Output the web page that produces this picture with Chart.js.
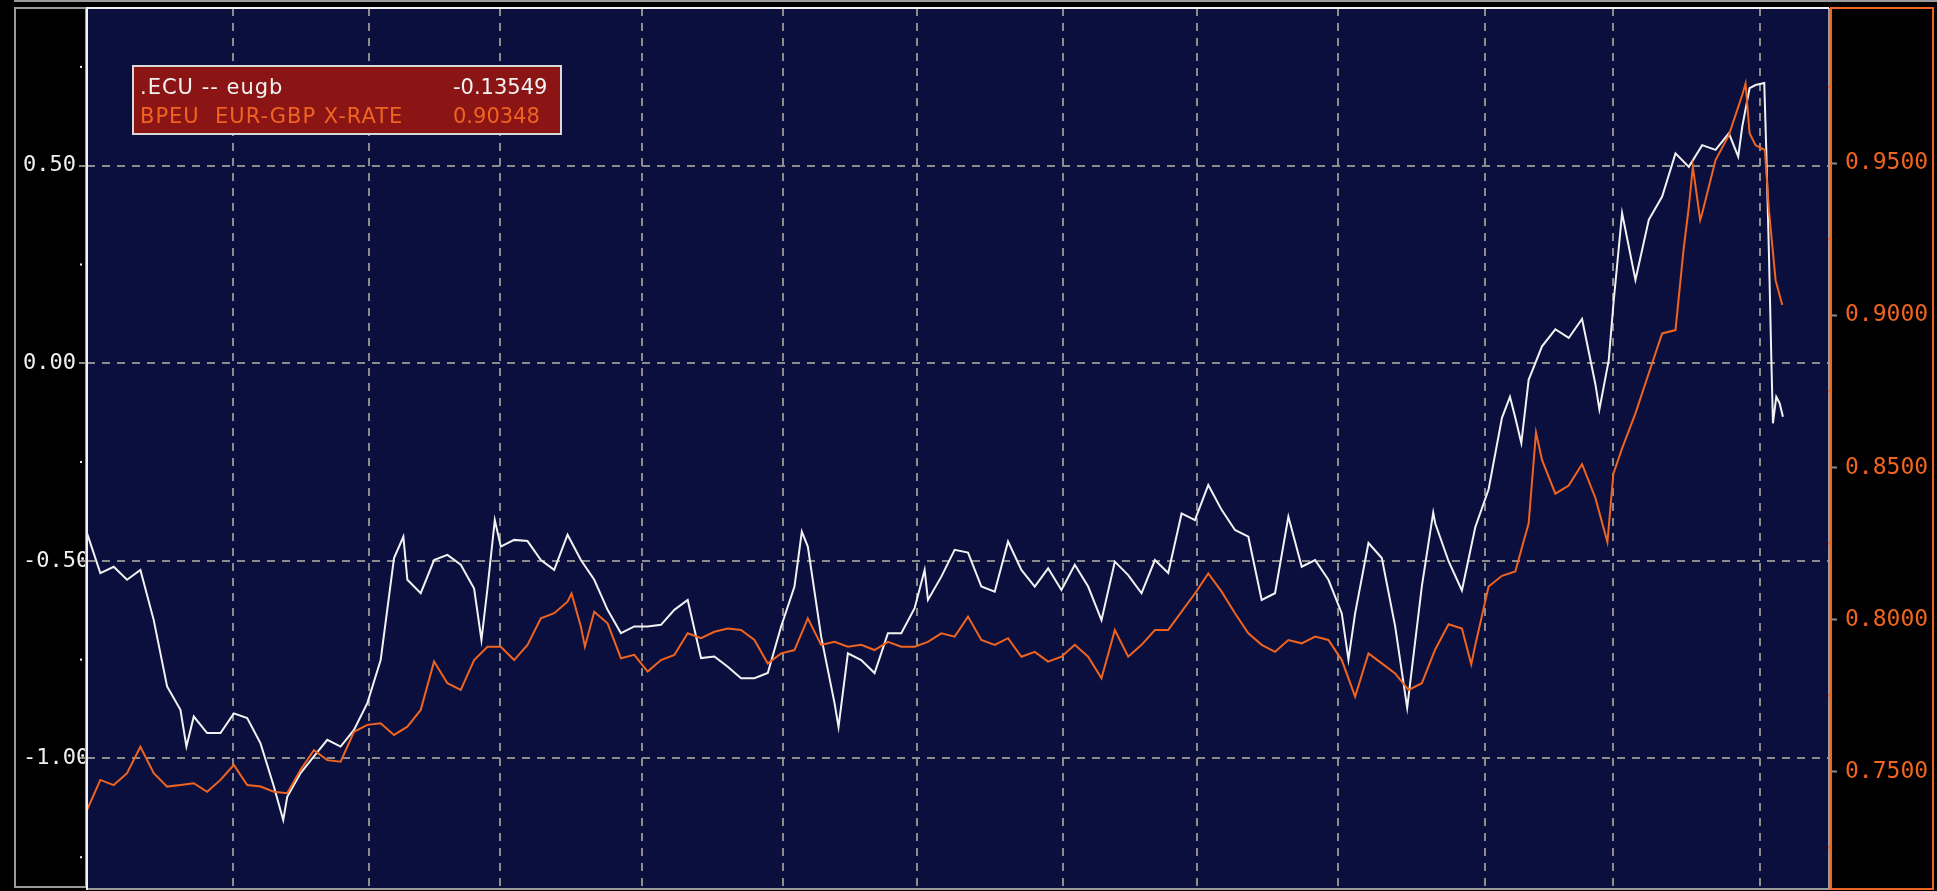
<!DOCTYPE html>
<html>
<head>
<meta charset="utf-8">
<script src="https://cdn.jsdelivr.net/npm/chart.js@4/dist/chart.umd.min.js"></script>
<style>
  html, body { margin: 0; padding: 0; background: #000; }
  #wrap { width: 1937px; height: 891px; }
</style>
</head>
<body>
<div id="wrap"><canvas id="fxChart"></canvas></div>
<script>
// trading-day index of each reading, and the values
const ecuDays = [
  0, 2, 4, 6, 8, 10, 12, 14, 14.9, 16,
  18, 20, 22, 24, 26, 28, 29.4, 30, 32, 34,
  36, 38, 40, 42, 44, 46, 47.4, 48, 50, 52,
  54, 56, 58, 59.1, 60, 61.1, 62, 64, 66, 68,
  70, 72, 74, 76, 78, 80, 82, 84, 86, 88,
  90, 92, 94, 96, 98, 100, 102, 104, 106, 107.1,
  108, 110, 112, 112.6, 114, 116, 118, 120, 122, 124,
  125.5, 126, 128, 130, 132, 134, 136, 138, 140, 142,
  144, 146, 148, 150, 152, 154, 156, 158, 160, 162,
  164, 166, 168, 170, 172, 174, 176, 178, 180, 182,
  184, 186, 188, 189, 190, 192, 194, 196, 197.8, 200,
  201.7, 202, 204, 206, 208, 210, 212, 213.2, 214, 214.9,
  216, 218, 220, 222, 224, 226, 226.6, 228, 228.7, 230,
  232, 234, 236, 238, 240, 242, 244, 246, 247.4, 248,
  249.1, 250, 251.3, 251.6, 252, 252.4, 252.6, 253.1, 253.6, 254.1
];
const ecuVals = [
  -0.430, -0.531, -0.515, -0.548, -0.523, -0.650, -0.818, -0.877, -0.970, -0.894,
  -0.936, -0.936, -0.886, -0.898, -0.962, -1.071, -1.156, -1.097, -1.037, -0.995,
  -0.953, -0.970, -0.928, -0.860, -0.751, -0.493, -0.439, -0.548, -0.582, -0.498,
  -0.485, -0.510, -0.570, -0.700, -0.570, -0.397, -0.464, -0.447, -0.450, -0.498,
  -0.523, -0.434, -0.498, -0.548, -0.624, -0.683, -0.666, -0.666, -0.662, -0.624,
  -0.599, -0.746, -0.742, -0.768, -0.797, -0.797, -0.784, -0.666, -0.565, -0.426,
  -0.464, -0.692, -0.860, -0.920, -0.734, -0.751, -0.784, -0.683, -0.683, -0.620,
  -0.523, -0.599, -0.540, -0.472, -0.479, -0.565, -0.578, -0.451, -0.523, -0.565,
  -0.519, -0.574, -0.510, -0.565, -0.650, -0.502, -0.536, -0.582, -0.498, -0.531,
  -0.380, -0.397, -0.308, -0.371, -0.422, -0.439, -0.599, -0.582, -0.388, -0.515,
  -0.498, -0.548, -0.633, -0.750, -0.633, -0.455, -0.493, -0.666, -0.872, -0.564,
  -0.378, -0.405, -0.501, -0.575, -0.415, -0.319, -0.138, -0.085, -0.138, -0.202,
  -0.042, 0.043, 0.086, 0.064, 0.112, -0.053, -0.117, 0.008, 0.150, 0.380,
  0.211, 0.363, 0.422, 0.531, 0.497, 0.552, 0.540, 0.582, 0.523, 0.599,
  0.696, 0.704, 0.709, 0.540, 0.278, -0.017, -0.152, -0.085, -0.101, -0.13549
];

const gbpDays = [
  0, 2, 4, 6, 8, 10, 12, 14, 16, 18,
  20, 22, 24, 26, 28, 30, 32, 34, 36, 38,
  40, 42, 44, 46, 48, 50, 52, 54, 56, 58,
  60, 62, 64, 66, 68, 70, 72, 72.6, 74, 74.6,
  76, 78, 80, 82, 84, 86, 88, 90, 92, 94,
  96, 98, 100, 102, 104, 106, 108, 110, 112, 114,
  116, 118, 120, 122, 124, 126, 128, 130, 132, 134,
  136, 138, 140, 142, 144, 146, 148, 150, 152, 154,
  156, 158, 160, 162, 164, 166, 168, 170, 172, 174,
  176, 178, 180, 182, 184, 186, 188, 190, 192, 194,
  196, 198, 200, 202, 204, 206, 207.4, 208, 210, 212,
  214, 216, 217.1, 218, 220, 222, 224, 226, 227.8, 228.7,
  230, 232, 234, 236, 238, 239.2, 240, 240.6, 241.7, 242,
  244, 246, 248, 248.5, 249.1, 250, 251.4, 252, 253, 254
];
const gbpVals = [
  0.7374, 0.7473, 0.7456, 0.7495, 0.7582, 0.7495, 0.7451, 0.7456, 0.7462, 0.7434,
  0.7473, 0.7522, 0.7456, 0.7451, 0.7434, 0.7429, 0.7506, 0.7571, 0.7538, 0.7533,
  0.7631, 0.7654, 0.7659, 0.7621, 0.7648, 0.7703, 0.7862, 0.7791, 0.7769, 0.7867,
  0.7911, 0.7911, 0.7867, 0.7917, 0.8004, 0.8021, 0.8059, 0.8086, 0.7977, 0.7911,
  0.8026, 0.7988, 0.7873, 0.7884, 0.7829, 0.7867, 0.7884, 0.7955, 0.7939, 0.7960,
  0.7971, 0.7966, 0.7933, 0.7856, 0.7889, 0.7900, 0.8004, 0.7917, 0.7927, 0.7911,
  0.7917, 0.7900, 0.7927, 0.7911, 0.7911, 0.7927, 0.7955, 0.7944, 0.8010, 0.7933,
  0.7917, 0.7939, 0.7878, 0.7894, 0.7862, 0.7878, 0.7917, 0.7878, 0.7807, 0.7966,
  0.7878, 0.7917, 0.7966, 0.7966, 0.8026, 0.8086, 0.8152, 0.8092, 0.8021, 0.7955,
  0.7917, 0.7894, 0.7933, 0.7922, 0.7944, 0.7933, 0.7867, 0.7747, 0.7889, 0.7856,
  0.7823, 0.7769, 0.7791, 0.7902, 0.7985, 0.7971, 0.7853, 0.7916, 0.8109, 0.8144,
  0.8158, 0.8317, 0.8615, 0.8525, 0.8414, 0.8441, 0.8511, 0.8400, 0.8255, 0.8480,
  0.8563, 0.8678, 0.8810, 0.8941, 0.8952, 0.9215, 0.9357, 0.9489, 0.9314, 0.9336,
  0.9511, 0.9593, 0.9725, 0.9763, 0.9599, 0.9560, 0.9544, 0.9346, 0.9116, 0.90348
];

// month boundaries (vertical grid) and axis ticks
const monthLines = [21.9, 42.3, 61.9, 83.1, 104.3, 124.3, 146.3, 166.3, 187.5, 209.5, 228.6, 250.6];
const leftTicks = [0.5, 0, -0.5, -1];
const leftMinor = [0.75, 0.25, -0.25, -0.75, -1.25];
const rightTicks = [0.95, 0.9, 0.85, 0.8, 0.75];
const rightMinor = [0.975, 0.925, 0.875, 0.825, 0.775, 0.725];

const ecuLabel = '.ECU -- eugb';
const gbpLabel = 'BPEU  EUR-GBP X-RATE';

const NAVY = '#0b0f3d';
const GRID = '#8c8c8c';
const WHITE = '#f2f2f2';
const ORANGE = '#ee6420';

const framePlugin = {
    id: 'frame',
    beforeDraw(chart) {
        const { ctx, chartArea: a, width, height } = chart;
        ctx.save();
        ctx.fillStyle = '#000';
        ctx.fillRect(0, 0, width, height);
        ctx.fillStyle = NAVY;
        ctx.fillRect(a.left, a.top, a.right - a.left, a.bottom - a.top);
        ctx.restore();
    },
    afterDraw(chart) {
        const { ctx, chartArea: a, width } = chart;
        const yL = chart.scales.yL, yR = chart.scales.yR;
        ctx.save();

        // outer frames
        ctx.lineWidth = 2;
        ctx.strokeStyle = '#9a9a9a';
        ctx.beginPath(); ctx.moveTo(14, 1); ctx.lineTo(width, 1); ctx.stroke();
        ctx.strokeRect(15, a.top, a.left - 16, a.bottom - a.top - 3);
        ctx.beginPath(); ctx.moveTo(a.right, a.top); ctx.lineTo(a.right, a.bottom); ctx.stroke();
        ctx.beginPath(); ctx.moveTo(a.left, a.bottom - 1); ctx.lineTo(a.right, a.bottom - 1); ctx.stroke();
        ctx.strokeStyle = WHITE;
        ctx.beginPath();
        ctx.moveTo(a.left, a.bottom); ctx.lineTo(a.left, a.top); ctx.lineTo(a.right, a.top);
        ctx.stroke();
        ctx.strokeStyle = ORANGE;
        ctx.strokeRect(a.right + 2, a.top, width - a.right - 6, a.bottom - a.top - 1);

        // minor tick dots
        ctx.fillStyle = WHITE;
        leftMinor.forEach(v => ctx.fillRect(a.left - 7, yL.getPixelForValue(v) - 1, 2, 2));
        ctx.fillStyle = ORANGE;
        rightMinor.forEach(v => ctx.fillRect(a.right - 1, yR.getPixelForValue(v) - 1, 3, 2));

        // legend box
        const bx = a.left + 46, by = a.top + 58, bw = 428, bh = 68;
        ctx.fillStyle = '#8b1515';
        ctx.fillRect(bx, by, bw, bh);
        ctx.strokeStyle = '#d8d8d8';
        ctx.lineWidth = 2;
        ctx.strokeRect(bx, by, bw, bh);
        ctx.font = '21px "DejaVu Sans"';
        ctx.textBaseline = 'alphabetic';
        ctx.textAlign = 'left';
        ctx.letterSpacing = '1px';
        ctx.fillStyle = WHITE;
        ctx.fillText(ecuLabel, bx + 7, by + 28);
        ctx.fillStyle = ORANGE;
        ctx.fillText(gbpLabel, bx + 7, by + 57);
        ctx.letterSpacing = '0px';
        ctx.fillStyle = WHITE;
        ctx.fillText(ecuVals[ecuVals.length - 1].toFixed(5), bx + 320, by + 28);
        ctx.fillStyle = ORANGE;
        ctx.fillText(gbpVals[gbpVals.length - 1].toFixed(5), bx + 320, by + 57);
        ctx.restore();
    }
};

const ctx = document.getElementById('fxChart').getContext('2d');
const fxChart = new Chart(ctx, {
    type: 'line',
    data: {
        datasets: [{
            label: ecuLabel,
            data: ecuDays.map((d, i) => ({ x: d, y: ecuVals[i] })),
            yAxisID: 'yL',
            borderColor: WHITE,
            borderWidth: 2,
            pointRadius: 0,
            tension: 0,
            order: 2
        }, {
            label: gbpLabel,
            data: gbpDays.map((d, i) => ({ x: d, y: gbpVals[i] })),
            yAxisID: 'yR',
            borderColor: ORANGE,
            borderWidth: 2,
            pointRadius: 0,
            tension: 0,
            order: 1
        }]
    },
    options: {
        responsive: true,
        maintainAspectRatio: false,
        animation: false,
        events: [],
        layout: {
            padding: { left: 23, top: 8, right: 0, bottom: 1 }
        },
        plugins: {
            legend: { display: false },
            tooltip: { enabled: false }
        },
        scales: {
            x: {
                type: 'linear',
                min: 0,
                max: 261,
                afterBuildTicks: s => { s.ticks = monthLines.map(v => ({ value: v })); },
                afterFit: s => { s.height = 0; },
                ticks: { display: false },
                grid: { color: GRID, lineWidth: 2, drawTicks: false },
                border: { display: false, dash: [8, 7] }
            },
            yL: {
                position: 'left',
                min: -1.333,
                max: 0.899,
                afterBuildTicks: s => { s.ticks = leftTicks.map(v => ({ value: v })); },
                afterFit: s => { s.width = 64; s.paddingTop = 0; s.paddingBottom = 0; },
                ticks: {
                    color: '#f0f0f0',
                    font: { family: 'DejaVu Sans Mono', size: 22 },
                    crossAlign: 'far',
                    callback: v => v.toFixed(2)
                },
                grid: { color: GRID, lineWidth: 2, tickLength: 8, tickColor: GRID, tickWidth: 2 },
                border: { display: false, dash: [8, 7] }
            },
            yR: {
                position: 'right',
                min: 0.7111,
                max: 1.0011,
                afterBuildTicks: s => { s.ticks = rightTicks.map(v => ({ value: v })); },
                afterFit: s => { s.width = 108; s.paddingTop = 0; s.paddingBottom = 0; },
                ticks: {
                    color: ORANGE,
                    font: { family: 'DejaVu Sans Mono', size: 23 },
                    padding: 8,
                    callback: v => v.toFixed(4)
                },
                grid: { drawOnChartArea: false, tickLength: 8, tickColor: GRID, tickWidth: 2 },
                border: { display: false }
            }
        }
    },
    plugins: [framePlugin]
});
</script>
</body>
</html>
